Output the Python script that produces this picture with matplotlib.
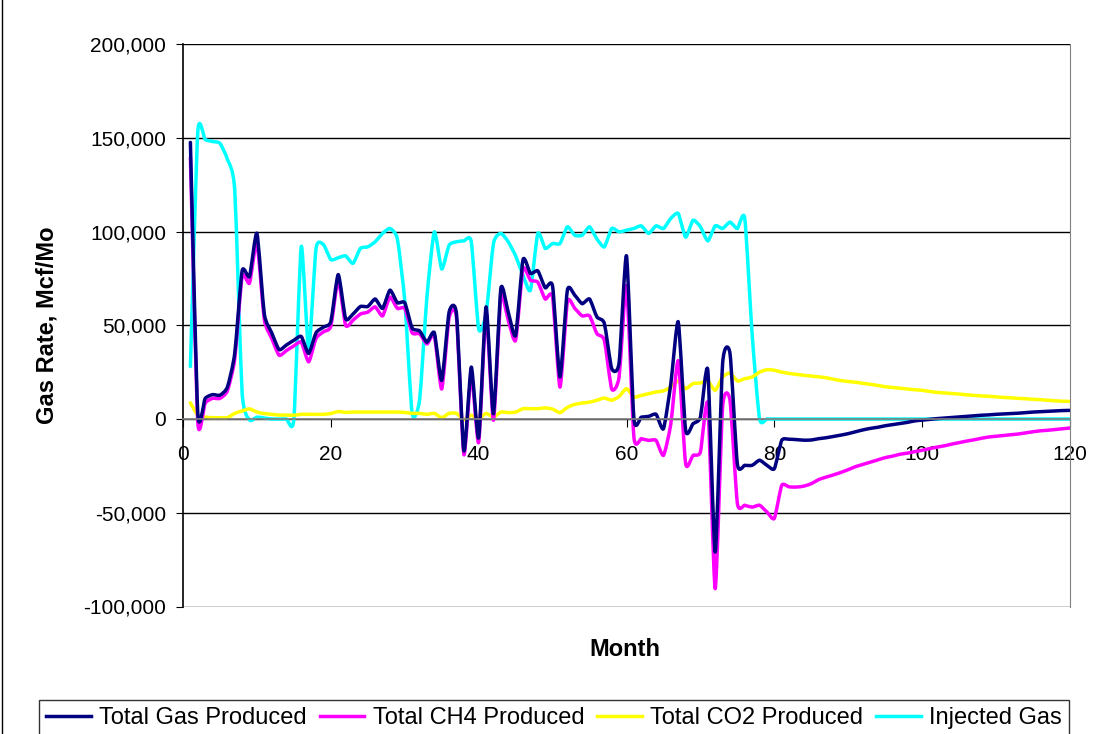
import matplotlib.pyplot as plt
from matplotlib.ticker import FuncFormatter, MultipleLocator
from matplotlib.lines import Line2D
from matplotlib.path import Path
from matplotlib.patches import PathPatch
import numpy as np

plt.rcParams['font.family'] = ['Liberation Sans', 'DejaVu Sans']

# month index 1..120
months = np.arange(1, 121)

# Total Gas Produced (Mcf/Mo)
total_gas = [
    147500, 3000, 11000, 13000, 12700, 17000, 35000, 79000, 76000, 99000,
    56000, 46000, 37000, 39500, 42000, 44000, 35000, 46000, 49000, 52000,
    77000, 53500, 56000, 60000, 60000, 64000, 59000, 68700, 62000, 62000,
    48500, 47000, 41000, 46000, 20600, 57000, 56000, -17000, 27700, -10000,
    59800, 2800, 69600, 57000, 44600, 85000, 77600, 79000, 70000, 70800,
    22400, 68700, 66000, 61500, 64000, 54400, 51000, 26900, 30000, 87000,
    200, 1000, 1400, 2500, -5200, 18900, 51800, -6000, -2500, 1000,
    26000, -71000, 29500, 35000, -24000, -24700, -24700, -22000, -24700, -26500,
    -11400, -10800, -11000, -11300, -11200, -10500, -10000, -9300, -8600, -7800,
    -6800, -5800, -5000, -4400, -3600, -3000, -2400, -1800, -1000, -600,
    -200, 200, 500, 800, 1100, 1400, 1700, 2000, 2200, 2500,
    2700, 2900, 3100, 3400, 3700, 3900, 4100, 4300, 4500, 4600,
]

total_ch4 = [
    139500, -1500, 8500, 11000, 11000, 15000, 32000, 76000, 72500, 94000,
    53000, 43000, 34000, 36500, 39000, 41000, 30500, 43000, 46500, 49500,
    74000, 50000, 52700, 56000, 57000, 59800, 55000, 65000, 59000, 59000,
    46000, 45500, 40000, 44600, 16000, 54000, 54000, -19000, 24000, -12500,
    56000, -700, 65000, 52700, 42000, 80000, 74000, 73000, 64000, 65000,
    17000, 62400, 59000, 55000, 55000, 45500, 42000, 16000, 22400, 71000,
    -9600, -10500, -11400, -11400, -19400, -2500, 31000, -23800, -19400, -17600,
    8000, -90500, 6400, 10000, -45000, -46000, -47000, -46000, -49600, -53000,
    -35400, -36200, -36300, -35800, -34500, -32300, -31000, -29800, -28500, -27000,
    -25400, -24200, -23000, -21800, -20600, -19800, -18800, -18200, -17400, -16700,
    -15800, -15000, -14300, -13400, -12600, -11800, -11100, -10300, -9600, -9200,
    -8800, -8400, -8000, -7400, -6800, -6300, -6000, -5600, -5200, -4800,
]

total_co2 = [
    8600, 2000, 1000, 700, 700, 700, 3000, 4300, 5400, 3700,
    2900, 2500, 2100, 2100, 2000, 2500, 2500, 2500, 2500, 2900,
    4000, 3500, 3700, 3700, 3700, 3700, 3700, 3700, 3700, 3500,
    3000, 3000, 2500, 3000, 700, 3000, 3000, -400, 2000, 200,
    3000, 1000, 3700, 3400, 3700, 5500, 5500, 5500, 5900, 5300,
    3400, 6200, 7800, 8500, 9000, 10000, 11200, 10000, 12000, 16200,
    11700, 12600, 13500, 14400, 15000, 17000, 20300, 16200, 18900, 19200,
    20300, 15300, 22400, 24500, 20300, 21500, 22400, 25000, 26300, 26000,
    25000, 24300, 23800, 23300, 22900, 22500, 22000, 21200, 20500, 20000,
    19600, 19000, 18500, 17900, 17200, 16800, 16400, 16000, 15600, 15300,
    14700, 14200, 13900, 13600, 13300, 12900, 12600, 12300, 12100, 11800,
    11500, 11300, 11000, 10800, 10500, 10300, 10000, 9700, 9500, 9400,
]

injected = [
    28000, 153000, 149000, 148000, 147000, 138600, 122000, 14000, -500, 1000,
    500, 0, 0, 0, 0, 92000, 37000, 91000, 93000, 85000,
    86000, 87000, 83000, 91000, 91800, 94500, 99000, 101600, 96000, 63000,
    3000, 10000, 65000, 99800, 80000, 92700, 94500, 95000, 94500, 48000,
    56000, 93600, 99000, 94500, 87000, 76700, 68700, 99000, 91000, 93600,
    93600, 102500, 98000, 98000, 102500, 96000, 91800, 101600, 99800, 100700,
    101600, 103000, 99000, 103000, 101600, 107000, 109600, 97000, 106000, 102500,
    95000, 103000, 101600, 105000, 101600, 107000, 45000, 0, 0, 0,
] + [0] * 40

series = [
    ("Total Gas Produced", total_gas, "#000080"),
    ("Total CH4 Produced", total_ch4, "#FF00FF"),
    ("Total CO2 Produced", total_co2, "#FFFF00"),
    ("Injected Gas", injected, "#00FFFF"),
]


def smooth_path(x, y, k=0.1):
    # smoothed line: bezier segments through every data point (low tension)
    p = np.column_stack([x, y]).astype(float)
    n = len(p)
    verts = [p[0]]
    codes = [Path.MOVETO]
    for i in range(n - 1):
        p0 = p[i - 1] if i > 0 else p[i]
        p3 = p[i + 2] if i + 2 < n else p[i + 1]
        c1 = p[i] + (p[i + 1] - p0) * k
        c2 = p[i + 1] - (p3 - p[i]) * k
        verts += [c1, c2, p[i + 1]]
        codes += [Path.CURVE4] * 3
    return Path(verts, codes)


fig = plt.figure(figsize=(11.01, 7.34), dpi=100)
ax = fig.add_axes([183 / 1101, 1 - 606.5 / 734, (1070 - 183) / 1101, (606.5 - 44) / 734])

# draw order: cyan under, then yellow, magenta, navy on top
for name, vals, col in [series[3], series[2], series[1], series[0]]:
    ax.add_patch(PathPatch(smooth_path(months, vals), fill=False, edgecolor=col,
                           lw=2.5, joinstyle='round', capstyle='round'))

ax.set_xlim(0, 120)
ax.set_ylim(-100000, 200000)
ax.yaxis.set_major_locator(MultipleLocator(50000))
ax.xaxis.set_major_locator(MultipleLocator(20))
ax.yaxis.set_major_formatter(FuncFormatter(lambda v, p: f"{int(v):,}"))
ax.grid(axis='y', color='black', lw=1.0)
ax.set_axisbelow(True)

ax.spines['bottom'].set_position(('data', 0))
ax.spines['bottom'].set_color('#808080')
ax.spines['bottom'].set_linewidth(1.2)
ax.spines['top'].set_visible(False)
ax.spines['right'].set_color('#808080')
ax.spines['left'].set_color('black')
ax.spines['left'].set_linewidth(1.2)

ax.tick_params(axis='both', labelsize=15, direction='out', colors='black')
ax.tick_params(axis='x', length=6, pad=13)
ax.tick_params(axis='y', length=5, pad=7)

ax.set_ylabel("Gas Rate, Mcf/Mo", fontsize=17, fontweight='bold')
ax.yaxis.set_label_coords(-(183 - 58) / 887, 0.5)
fig.text(625 / 1101, 1 - 649 / 734, "Month", fontsize=17, fontweight='bold',
         ha='center', va='center')

handles = [Line2D([0], [0], color=c, lw=2.5) for _, _, c in series]
labels = [n for n, _, _ in series]
leg = fig.legend(handles, labels, loc='lower center', ncol=4, fontsize=17,
                 bbox_to_anchor=(554 / 1101, -0.003), frameon=True, fancybox=False,
                 borderpad=0.3, handlelength=1.9, handletextpad=0.35,
                 columnspacing=0.55, borderaxespad=0)
leg.get_frame().set_edgecolor('black')
leg.get_frame().set_linewidth(1.0)

fig.add_artist(Line2D([1.5 / 1101, 1.5 / 1101], [0, 1], color='black', lw=1.0,
                      transform=fig.transFigure))

fig.savefig("out.png", dpi=100)
